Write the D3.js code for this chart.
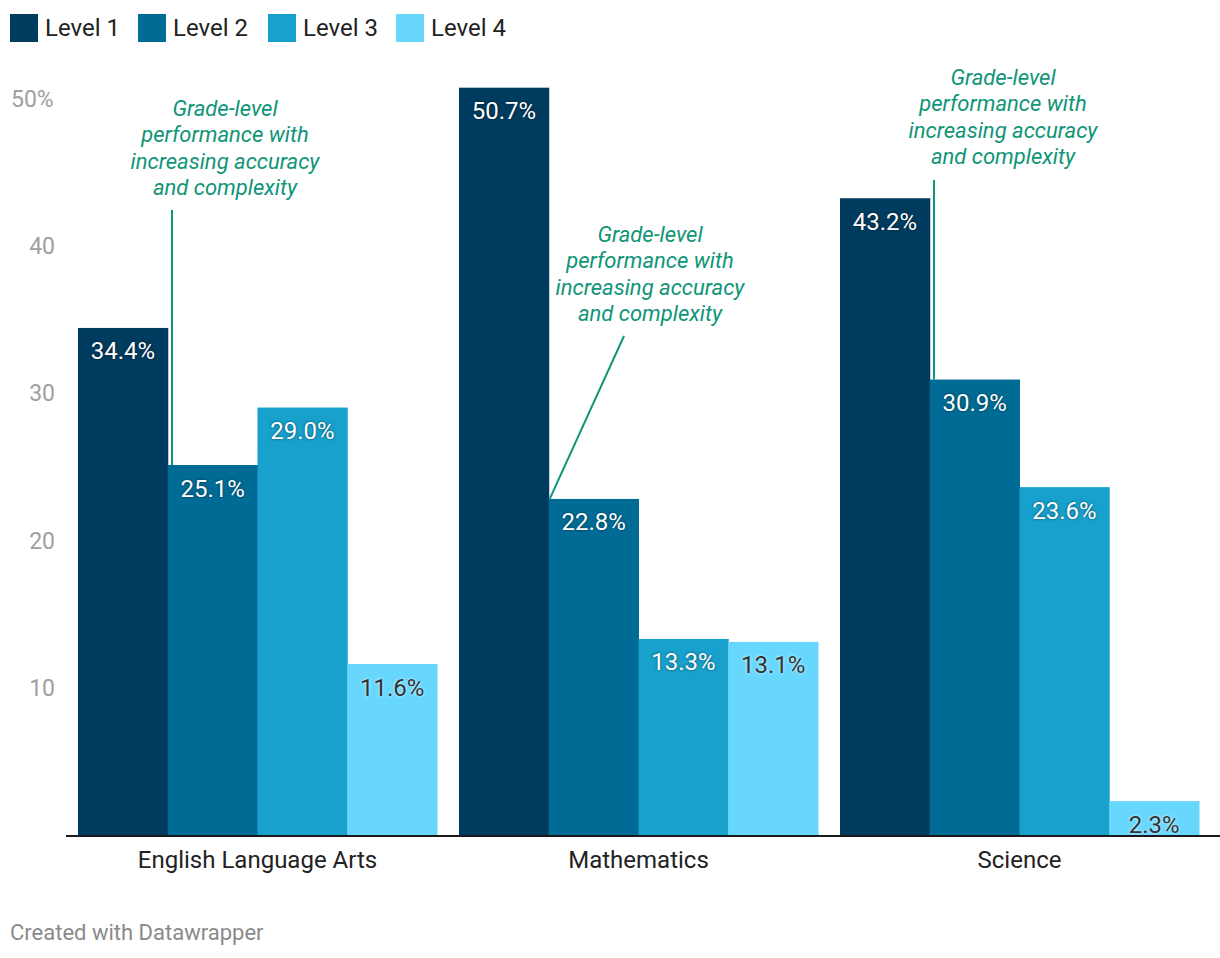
<!DOCTYPE html>
<html>
<head>
<meta charset="utf-8">
<script src="https://cdn.jsdelivr.net/npm/d3@7"></script>
<style>
  html, body { margin: 0; padding: 0; background: #fff; }
  svg { display: block; font-family: Roboto, "Noto Sans", sans-serif; }
  .lbl-light { text-shadow: 0 0 3px rgba(0,0,0,0.55); }
  .lbl-dark { text-shadow: 0 0 3px rgba(255,255,255,0.9); }
</style>
</head>
<body>
<script>
const categories = ["English Language Arts", "Mathematics", "Science"];
const levels = ["Level 1", "Level 2", "Level 3", "Level 4"];
const level1 = [34.4, 50.7, 43.2];
const level2 = [25.1, 22.8, 30.9];
const level3 = [29.0, 13.3, 23.6];
const level4 = [11.6, 13.1, 2.3];
const yTicks = [10, 20, 30, 40, 50];
const colors = ["#003c5f", "#006c96", "#18a1cd", "#68d7fe"];
const annotationText = ["Grade-level", "performance with", "increasing accuracy", "and complexity"];
// annotation targets: category index, level index
const annotationTargets = [[0, 1], [1, 1], [2, 1]];

const series = [level1, level2, level3, level4];
const W = 1220, H = 958;
const svg = d3.select("body").append("svg").attr("width", W).attr("height", H);

const x0 = d3.scaleBand().domain(categories).range([78, 1199]).paddingInner(22 / 381).paddingOuter(0);
const x1 = d3.scaleBand().domain(levels).range([0, x0.bandwidth()]).padding(0);
const y = d3.scaleLinear().domain([0, 50]).range([835, 98]);

// y tick labels
svg.append("g").selectAll("text").data(yTicks).join("text")
  .attr("x", d => d === 50 ? 11 : 55)
  .attr("y", d => y(d) + 8.5)
  .attr("text-anchor", d => d === 50 ? "start" : "end")
  .attr("fill", "#a0a0a0")
  .attr("font-size", 23)
  .text(d => d === 50 ? d + "%" : d);

// bars
const rows = [];
categories.forEach((c, ci) => levels.forEach((l, li) => rows.push({c, l, ci, li, v: series[li][ci]})));

svg.append("g").selectAll("rect").data(rows).join("rect")
  .attr("x", d => x0(d.c) + x1(d.l))
  .attr("y", d => y(d.v))
  .attr("width", x1.bandwidth() + 0.5)
  .attr("height", d => y(0) - y(d.v))
  .attr("fill", d => colors[d.li]);

// value labels
svg.append("g").selectAll("text").data(rows).join("text")
  .attr("class", d => d.li === 3 ? "lbl-dark" : "lbl-light")
  .attr("x", d => x0(d.c) + x1(d.l) + x1.bandwidth() / 2)
  .attr("y", d => y(d.v) + 31.5)
  .attr("text-anchor", "middle")
  .attr("font-size", 24)
  .attr("fill", d => d.li === 3 ? "#333" : "#fff")
  .text(d => d.v.toFixed(1) + "%");

// baseline
svg.append("line").attr("x1", 66).attr("x2", 1220).attr("y1", y(0) + 1).attr("y2", y(0) + 1)
  .attr("stroke", "#1a1a1a").attr("stroke-width", 2);

// category labels
svg.append("g").selectAll("text").data(categories).join("text")
  .attr("x", d => x0(d) + x0.bandwidth() / 2)
  .attr("y", 868)
  .attr("text-anchor", "middle")
  .attr("fill", "#222")
  .attr("font-size", 24)
  .text(d => d);

// legend
const legX = [10, 138, 268, 396];
const leg = svg.append("g").selectAll("g").data(levels).join("g")
  .attr("transform", (d, i) => `translate(${legX[i]},14)`);
leg.append("rect").attr("width", 28).attr("height", 28).attr("fill", (d, i) => colors[i]);
leg.append("text").attr("x", 35).attr("y", 21.5).attr("font-size", 24).attr("fill", "#222").text(d => d);

// annotations
const annColor = "#0f9577";
const annLayout = [
  {tx: 225, ty: 116, lx1: 172, ly1: 210, lxOff: 4},
  {tx: 650, ty: 242, lx1: 624, ly1: 336, lxOff: 1},
  {tx: 1003, ty: 85, lx1: 934, ly1: 180, lxOff: 4}
];
annotationTargets.forEach(([ci, li], k) => {
  const a = annLayout[k];
  const t = svg.append("text").attr("x", a.tx).attr("y", a.ty)
    .attr("text-anchor", "middle").attr("font-size", 22).attr("font-style", "italic")
    .attr("fill", annColor);
  annotationText.forEach((s, j) => t.append("tspan").attr("x", a.tx).attr("y", a.ty + j * 26.4).text(s));
  const bx = x0(categories[ci]) + x1(levels[li]) + a.lxOff;
  const by = y(series[li][ci]);
  svg.append("line").attr("x1", a.lx1).attr("y1", a.ly1)
    .attr("x2", k === 1 ? bx : a.lx1).attr("y2", by)
    .attr("stroke", annColor).attr("stroke-width", 2);
});

// footer
svg.append("text").attr("x", 10).attr("y", 940).attr("font-size", 22).attr("fill", "#8a8a8a")
  .text("Created with Datawrapper");
</script>
</body>
</html>
